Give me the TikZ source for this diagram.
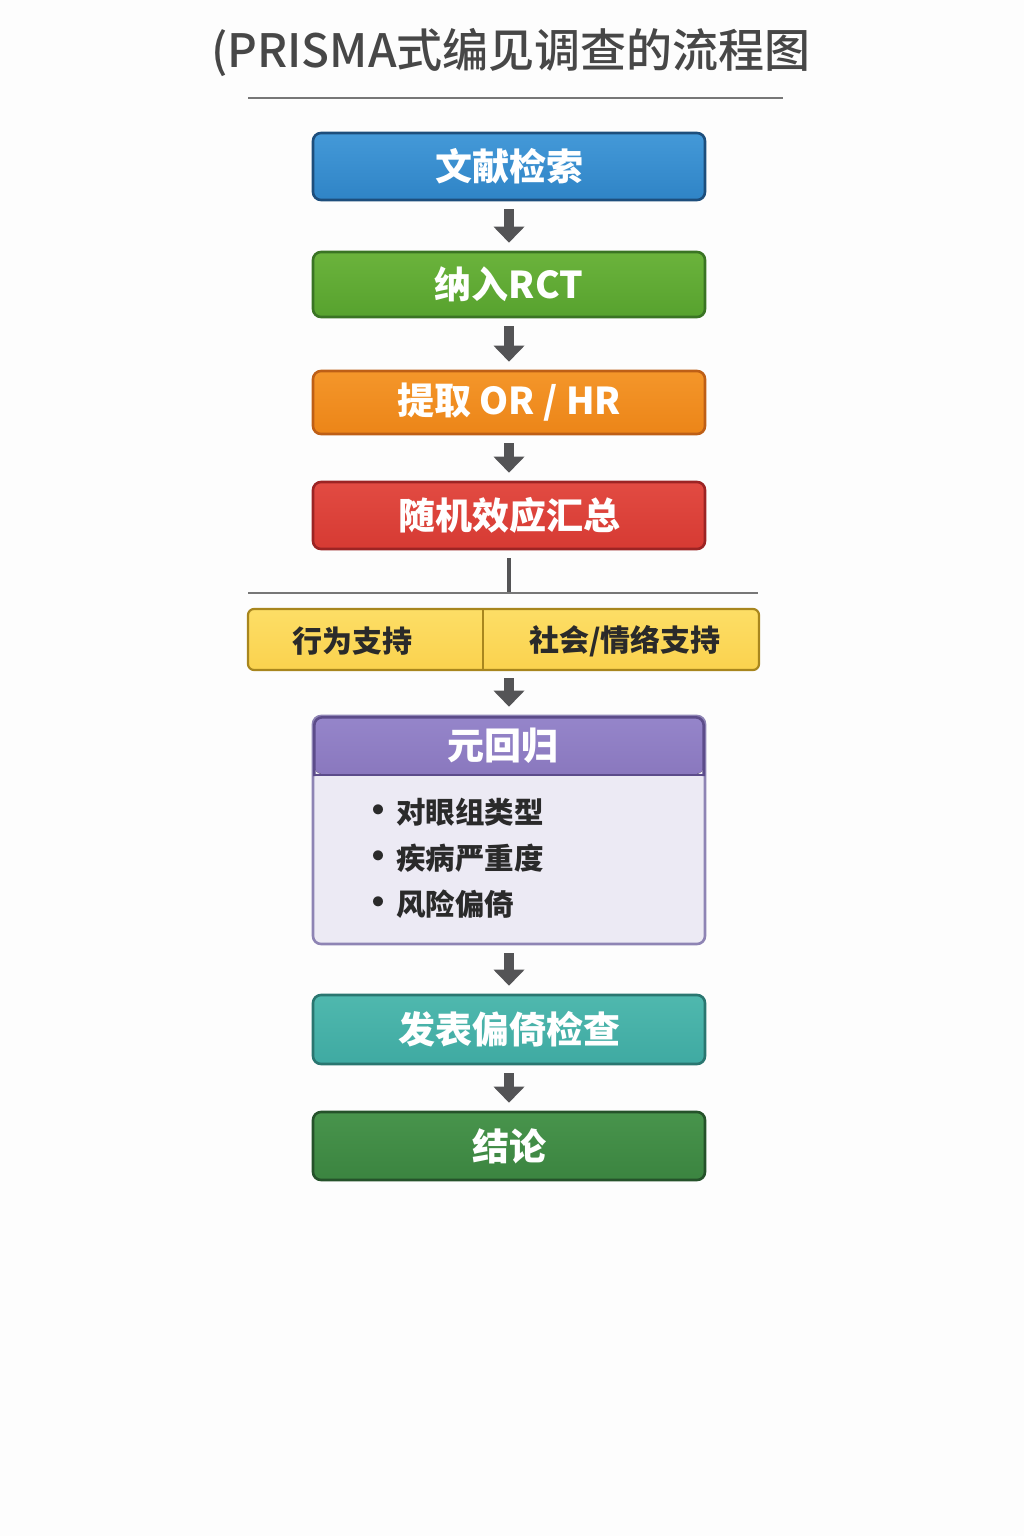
\documentclass[tikz,border=0pt]{standalone}
\usepackage{fontspec}
\setmainfont{Noto Sans CJK SC}
\newfontfamily\medfont{Noto Sans CJK SC}[UprightFont=* Medium]
\usetikzlibrary{arrows.meta}
\definecolor{bgc}{HTML}{FDFDFD}
\definecolor{titlec}{HTML}{474747}
\definecolor{rulec}{HTML}{777777}
\definecolor{arrowc}{HTML}{545456}
\definecolor{blueA}{HTML}{4499D8}\definecolor{blueB}{HTML}{2F84C6}\definecolor{blueD}{HTML}{1D4E7C}
\definecolor{grnA}{HTML}{6BB33C}\definecolor{grnB}{HTML}{57A22E}\definecolor{grnD}{HTML}{3A7424}
\definecolor{orgA}{HTML}{F4962A}\definecolor{orgB}{HTML}{EC8518}\definecolor{orgD}{HTML}{BE5F16}
\definecolor{redA}{HTML}{E24B42}\definecolor{redB}{HTML}{D63A33}\definecolor{redD}{HTML}{9C2424}
\definecolor{ylwA}{HTML}{FDDE66}\definecolor{ylwB}{HTML}{FAD24E}\definecolor{ylwD}{HTML}{A8861E}
\definecolor{purA}{HTML}{9585CA}\definecolor{purB}{HTML}{8A78BE}\definecolor{purD}{HTML}{5C4C8A}
\definecolor{purL}{HTML}{ECEAF4}\definecolor{purE}{HTML}{8E84B4}
\definecolor{tealA}{HTML}{4FB8AE}\definecolor{tealB}{HTML}{3FAAA2}\definecolor{tealD}{HTML}{2A7670}
\definecolor{dgA}{HTML}{48944C}\definecolor{dgB}{HTML}{3B8440}\definecolor{dgD}{HTML}{25522A}
\definecolor{txtd}{HTML}{2A2A2A}
\begin{document}
\begin{tikzpicture}[x=1pt,y=-1pt,
  flowbox/.style={rounded corners=8pt, line width=2.6pt, minimum width=392pt,
    inner sep=0pt, text=white, font=\fontsize{37}{40}\selectfont\bfseries},
  flowarrow/.style={draw=arrowc, line width=10pt,
    -{Triangle[width=30pt,length=16pt]}, shorten <=8pt, shorten >=8pt},
  plainline/.style={draw=rulec, line width=2pt},
  splittext/.style={text=txtd, font=\fontsize{30}{34}\selectfont\bfseries},
  bullettext/.style={text=txtd, font=\fontsize{29.5}{32}\selectfont\bfseries, anchor=west, inner sep=0pt}
]
\useasboundingbox (0,0) rectangle (1024,1536);
\fill[bgc] (0,0) rectangle (1024,1536);

% title
\node[text=titlec, font=\fontsize{46}{48}\medfont] (title) at (511,53) {(PRISMA式编见调查的流程图};
\coordinate (tl) at (248,98);
\coordinate (tr) at (783,98);
\draw[plainline] (tl) -- (tr);

% boxes
\node[flowbox, minimum height=67pt, top color=blueA, bottom color=blueB, draw=blueD] (b1) at (509,166.5) {文献检索};
\node[flowbox, minimum height=65pt, top color=grnA, bottom color=grnB, draw=grnD] (b2) at (509,284.5) {纳入RCT};
\node[flowbox, minimum height=63pt, top color=orgA, bottom color=orgB, draw=orgD] (b3) at (509,402.5) {提取 OR / HR};
\node[flowbox, minimum height=67pt, top color=redA, bottom color=redB, draw=redD] (b4) at (509,515.5) {随机效应汇总};

\draw[flowarrow] (b1.south) -- (b2.north);
\draw[flowarrow] (b2.south) -- (b3.north);
\draw[flowarrow] (b3.south) -- (b4.north);

% split
\coordinate (jn) at (509,593);
\coordinate (sl) at (248,593);
\coordinate (sr) at (758,593);
\draw[draw=arrowc, line width=4pt, shorten <=8pt] (b4.south) -- (jn);
\draw[plainline] (sl) -- (sr);

\node[rounded corners=6pt, line width=2.2pt, draw=ylwD, top color=ylwA, bottom color=ylwB,
  minimum width=511pt, minimum height=61pt, inner sep=0pt] (split) at (503.5,639.5) {};
\coordinate (dvt) at (483,609);
\coordinate (dvb) at (483,670);
\draw[draw=ylwD, line width=2pt] (dvt) -- (dvb);
\node[splittext] (sa) at (352,641) {行为支持};
\node[splittext] (sb) at (625,641) {社会/情络支持};

% meta-regression box
\coordinate (splitout) at (509,670);
\node[rounded corners=8pt, line width=2.6pt, draw=purE, fill=purL,
  minimum width=392pt, minimum height=228pt, inner sep=0pt] (meta) at (509,830) {};
\fill[top color=purA, bottom color=purB, rounded corners=8pt]
  (314.3,774) -- (314.3,717.3) -- (703.7,717.3) -- (703.7,774) -- cycle;
\draw[draw=purD, line width=2.6pt, rounded corners=8pt]
  (314.3,776) -- (314.3,717.3) -- (703.7,717.3) -- (703.7,776);
\coordinate (hl) at (314,775);
\coordinate (hr) at (704,775);
\draw[draw=purD, line width=2.4pt] (hl) -- (hr);
\node[text=white, font=\fontsize{37}{40}\selectfont\bfseries] (metahead) at (503,746) {元回归};
\node[bullettext] (i1) at (360,812) {{\fontsize{36}{32}\selectfont •}\hspace{0pt}对眼组类型};
\node[bullettext] (i2) at (360,858) {{\fontsize{36}{32}\selectfont •}\hspace{0pt}疾病严重度};
\node[bullettext] (i3) at (360,904) {{\fontsize{36}{32}\selectfont •}\hspace{0pt}风险偏倚};

\draw[flowarrow] (splitout) -- (meta.north);

\node[flowbox, minimum height=69pt, top color=tealA, bottom color=tealB, draw=tealD] (b6) at (509,1029.5) {发表偏倚检查};
\node[flowbox, minimum height=68pt, top color=dgA, bottom color=dgB, draw=dgD] (b7) at (509,1146) {结论};

\draw[flowarrow] (meta.south) -- (b6.north);
\draw[flowarrow] (b6.south) -- (b7.north);
\end{tikzpicture}
\end{document}
